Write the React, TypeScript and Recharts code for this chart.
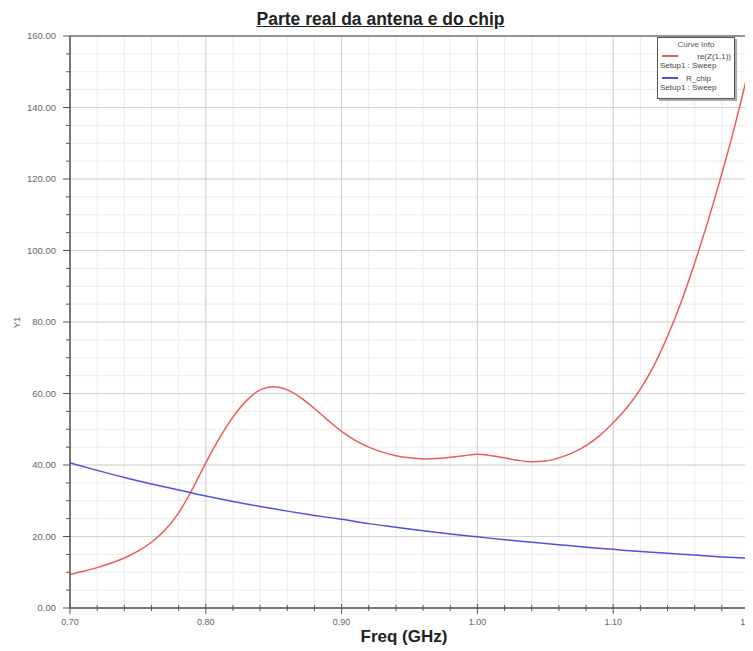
import { CartesianGrid, Line, LineChart, ReferenceLine, XAxis, YAxis } from "recharts";

// re(Z(1,1)) – antenna real part, sampled every 10 MHz
const freqRe = [
  0.7, 0.71, 0.72, 0.73, 0.74, 0.75, 0.76, 0.77, 0.78, 0.79, 0.8, 0.81, 0.82, 0.83, 0.84, 0.85, 0.86,
  0.87, 0.88, 0.89, 0.9, 0.91, 0.92, 0.93, 0.94, 0.95, 0.96, 0.97, 0.98, 0.99, 1.0, 1.01, 1.02, 1.03,
  1.04, 1.05, 1.06, 1.07, 1.08, 1.09, 1.1, 1.11, 1.12, 1.13, 1.14, 1.15, 1.16, 1.17, 1.18, 1.19, 1.2,
];
const reZ = [
  9.4, 10.3, 11.3, 12.5, 14.0, 15.9, 18.4, 21.8, 26.6, 33.2, 40.6, 47.5, 53.4, 58.0, 61.0, 61.9, 61.0,
  58.8, 55.8, 52.5, 49.4, 46.9, 45.0, 43.6, 42.6, 42.0, 41.7, 41.8, 42.2, 42.6, 43.0, 42.6, 42.0, 41.3,
  40.9, 41.1, 42.0, 43.4, 45.4, 48.2, 51.8, 56.0, 61.2, 67.8, 76.0, 85.5, 96.5, 108.5, 121.5, 135.5, 151.0,
];

// R_chip, sampled every 20 MHz
const freqChip = [
  0.7, 0.72, 0.74, 0.76, 0.78, 0.8, 0.82, 0.84, 0.86, 0.88, 0.9, 0.92, 0.94, 0.96, 0.98, 1.0, 1.02,
  1.04, 1.06, 1.08, 1.1, 1.12, 1.14, 1.16, 1.18, 1.2,
];
const rChip = [
  40.6, 38.5, 36.5, 34.7, 33.0, 31.3, 29.8, 28.4, 27.1, 25.9, 24.8, 23.6, 22.6, 21.6, 20.7, 19.9, 19.1,
  18.4, 17.7, 17.0, 16.4, 15.8, 15.3, 14.8, 14.3, 13.9,
];

const xMajor = [0.7, 0.8, 0.9, 1.0, 1.1, 1.2];
const yMajor = [0, 20, 40, 60, 80, 100, 120, 140, 160];
const xSub = 5;
const ySub = 4;

const subdivide = (major: number[], n: number) => {
  const out: number[] = [];
  major.forEach((v, i) => {
    out.push(v);
    if (i < major.length - 1) {
      const step = (major[i + 1] - v) / n;
      for (let k = 1; k < n; k++) out.push(Math.round((v + step * k) * 1e6) / 1e6);
    }
  });
  return out;
};

const xTicks = subdivide(xMajor, xSub);
const yTicks = subdivide(yMajor, ySub);
const isMajor = (arr: number[], v: number) => arr.some((m) => Math.abs(m - v) < 1e-6);

const reData = freqRe.map((f, i) => ({ f, v: reZ[i] }));
const chipData = freqChip.map((f, i) => ({ f, v: rChip[i] }));

const FONT = "'Liberation Sans', Arial, sans-serif";

function XTick(props: any) {
  const { x, y, payload } = props;
  const major = isMajor(xMajor, payload.value);
  return (
    <g>
      <line x1={x} x2={x} y1={y - (major ? 4 : 3)} y2={y + (major ? 6 : 3)} stroke="#555" strokeWidth={1} />
      {major && (
        <text x={x} y={y + 17} textAnchor="middle" fontSize={9} fill="#666" fontFamily={FONT}>
          {payload.value.toFixed(2)}
        </text>
      )}
    </g>
  );
}

function YTick(props: any) {
  const { x, y, payload } = props;
  const major = isMajor(yMajor, payload.value);
  return (
    <g>
      <line x1={x - (major ? 7 : 4)} x2={x} y1={y} y2={y} stroke="#555" strokeWidth={1} />
      {major && (
        <text x={x - 14} y={y + 3} textAnchor="end" fontSize={9.5} fill="#666" fontFamily={FONT}>
          {payload.value.toFixed(2)}
        </text>
      )}
    </g>
  );
}

export default function App() {
  return (
    <div style={{ position: "relative", width: 745, height: 643, background: "#fff", fontFamily: FONT }}>
      <LineChart width={745} height={643} margin={{ top: 28, right: 4, bottom: 0, left: 0 }}>
        <CartesianGrid stroke="#ececec" />
        {xTicks.filter((v) => isMajor(xMajor, v)).map((v) => (
          <ReferenceLine key={"mx" + v} x={v} stroke="#d2d2d2" strokeWidth={1} />
        ))}
        {yTicks.filter((v) => isMajor(yMajor, v)).map((v) => (
          <ReferenceLine key={"my" + v} y={v} stroke="#d2d2d2" strokeWidth={1} />
        ))}
        <ReferenceLine y={160} stroke="#777" strokeWidth={1.5} />
        <ReferenceLine x={1.2} stroke="#bbb" strokeWidth={1} />
        <XAxis
          dataKey="f"
          type="number"
          domain={[0.7, 1.2]}
          ticks={xTicks}
          interval={0}
          allowDataOverflow
          height={43}
          tickSize={0}
          tickMargin={0}
          tickLine={false}
          axisLine={{ stroke: "#555", strokeWidth: 1.5 }}
          tick={<XTick />}
        />
        <YAxis
          type="number"
          domain={[0, 160]}
          ticks={yTicks}
          interval={0}
          allowDataOverflow
          width={62}
          tickSize={0}
          tickMargin={0}
          tickLine={false}
          axisLine={{ stroke: "#555", strokeWidth: 1.5 }}
          tick={<YTick />}
        />
        <Line
          data={reData}
          dataKey="v"
          type="monotone"
          stroke="#ec5a5a"
          strokeWidth={1.5}
          dot={false}
          isAnimationActive={false}
        />
        <Line
          data={chipData}
          dataKey="v"
          type="monotone"
          stroke="#5050e0"
          strokeWidth={1.5}
          dot={false}
          isAnimationActive={false}
        />
      </LineChart>

      <div style={{ position: "absolute", left: 0, width: 745, top: 1, textAlign: "center" }}>
        <span
          style={{
            fontSize: 17.5,
            fontWeight: "bold",
            textDecoration: "underline",
            color: "#222",
          }}
        >
          Parte real da antena e do chip
        </span>
      </div>

      <div
        style={{
          position: "absolute",
          left: 336,
          width: 120,
          top: 619,
          textAlign: "center",
          fontSize: 17,
          fontWeight: "bold",
          color: "#222",
        }}
      >
        Freq (GHz)
      </div>

      <div
        style={{
          position: "absolute",
          left: 3,
          top: 309,
          fontSize: 9.5,
          color: "#555",
          transform: "rotate(-90deg)",
        }}
      >
        Y1
      </div>

      <div
        style={{
          position: "absolute",
          left: 737,
          top: 6,
          width: 0,
          height: 0,
          borderLeft: "3.5px solid transparent",
          borderRight: "3.5px solid transparent",
          borderBottom: "6px solid #e05050",
        }}
      />

      <div
        style={{
          position: "absolute",
          left: 649,
          top: 29,
          width: 76,
          height: 60,
          border: "1.5px solid #555",
          background: "#fff",
          boxShadow: "2px 2px 0 #aaa",
          fontSize: 8,
          color: "#444",
          lineHeight: "9.5px",
        }}
      >
        <div style={{ textAlign: "center", marginTop: 2, color: "#555" }}>Curve Info</div>
        <div style={{ display: "flex", alignItems: "center", marginTop: 2, paddingLeft: 4 }}>
          <div style={{ width: 16, height: 2, background: "#ec5a5a" }} />
          <div style={{ flex: 1, textAlign: "right", paddingRight: 3 }}>re(Z(1,1))</div>
        </div>
        <div style={{ paddingLeft: 2 }}>Setup1 : Sweep</div>
        <div style={{ display: "flex", alignItems: "center", marginTop: 3, paddingLeft: 4 }}>
          <div style={{ width: 16, height: 2, background: "#5050e0" }} />
          <div style={{ paddingLeft: 8 }}>R_chip</div>
        </div>
        <div style={{ paddingLeft: 2 }}>Setup1 : Sweep</div>
      </div>
    </div>
  );
}
